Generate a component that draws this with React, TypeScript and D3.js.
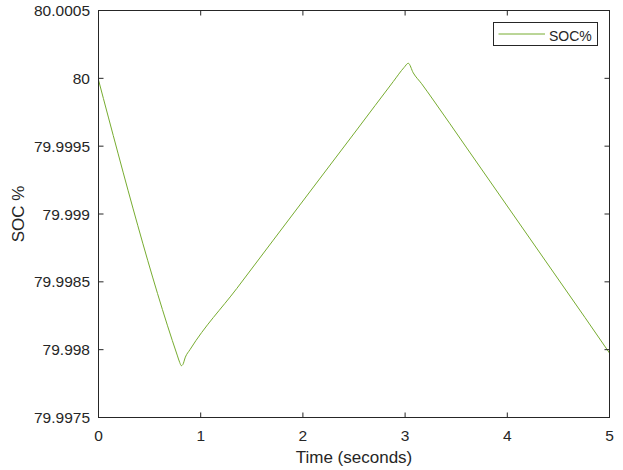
import React from "react";
import * as d3 from "d3";

const timeS = [0, 0.77, 0.795, 0.81, 0.825, 0.85, 0.895, 1.352, 1.71, 2.2, 2.526, 2.885, 2.99, 3.031, 3.08, 3.162, 3.276, 3.603, 4.026, 4.45, 4.76, 5];
const socPct = [79.999988, 79.99796, 79.997905, 79.997882, 79.99789, 79.997945, 79.998, 79.99845, 79.998807, 79.999295, 79.999619, 79.999977, 80.00008, 80.000111, 80.00004, 79.99996, 79.99984, 79.999487, 79.99903, 79.998572, 79.998237, 79.997975];
const xTicks = [0, 1, 2, 3, 4, 5];
const yTicks = [79.9975, 79.998, 79.9985, 79.999, 79.9995, 80, 80.0005];
const yTickLabels = ["79.9975", "79.998", "79.9985", "79.999", "79.9995", "80", "80.0005"];

const W = 623, H = 470;
const L = 98.5, R = 609.5, T = 10.5, B = 417.5;
const ink = "#262626";
const lineColor = "#77AC30";
const font = "'Liberation Sans', Arial, Helvetica, sans-serif";

export default function App() {
  const x = d3.scaleLinear().domain([0, 5]).range([L, R]);
  const y = d3.scaleLinear().domain([79.9975, 80.0005]).range([B, T]);
  const pts = timeS.map((t, i) => [t, socPct[i]] as [number, number]);
  const path = d3.line<[number, number]>().x(d => x(d[0])).y(d => y(d[1])).curve(d3.curveMonotoneX)(pts) || "";
  const tl = 5;
  return (
    <svg width={W} height={H} style={{ position: "absolute", left: 0, top: 0, background: "#fff" }} fontFamily={font}>
      <rect x={0} y={0} width={W} height={H} fill="#fff" />
      <path d={path} fill="none" stroke={lineColor} strokeWidth={1} />
      <rect x={L} y={T} width={R - L} height={B - T} fill="none" stroke={ink} strokeWidth={1} />
      {xTicks.map(t => (
        <g key={"x" + t}>
          <line x1={x(t)} x2={x(t)} y1={B} y2={B - tl} stroke={ink} />
          <line x1={x(t)} x2={x(t)} y1={T} y2={T + tl} stroke={ink} />
          <text x={x(t)} y={441} textAnchor="middle" fontSize={15.5} fill={ink}>{t}</text>
        </g>
      ))}
      {yTicks.map((v, i) => (
        <g key={"y" + i}>
          <line x1={L} x2={L + tl} y1={y(v)} y2={y(v)} stroke={ink} />
          <line x1={R} x2={R - tl} y1={y(v)} y2={y(v)} stroke={ink} />
          <text x={90} y={y(v) + 5.5} textAnchor="end" fontSize={15.5} fill={ink}>{yTickLabels[i]}</text>
        </g>
      ))}
      <text x={(L + R) / 2} y={462.5} textAnchor="middle" fontSize={17} fill={ink}>Time (seconds)</text>
      <text transform={`translate(24,${(T + B) / 2}) rotate(-90)`} textAnchor="middle" fontSize={17} fill={ink}>SOC %</text>
      <g>
        <rect x={493.5} y={22.5} width={104} height={23} fill="#fff" stroke={ink} strokeWidth={1} />
        <line x1={498.5} x2={545} y1={34} y2={34} stroke={lineColor} strokeWidth={1} />
        <text x={549} y={40.5} fontSize={14} fill={ink}>SOC%</text>
      </g>
    </svg>
  );
}
